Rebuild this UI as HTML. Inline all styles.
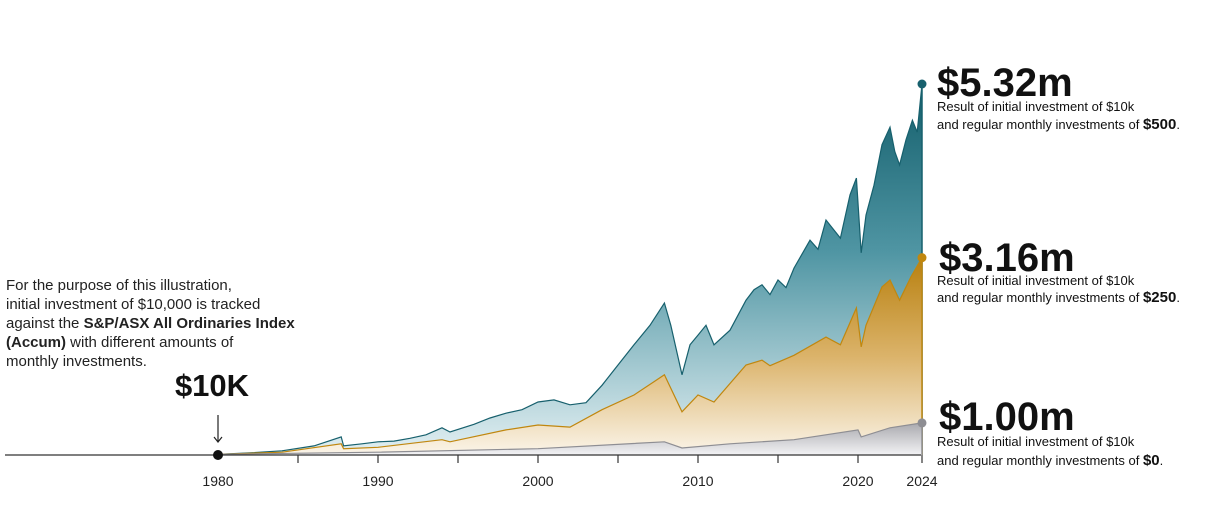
<!DOCTYPE html>
<html><head><meta charset="utf-8"><style>
body{margin:0;background:#fff;font-family:"Liberation Sans",sans-serif}
svg{display:block}
</style></head><body>
<svg width="1225" height="505">
<defs>
<linearGradient id="gT" x1="0" y1="0" x2="0" y2="1"><stop offset="0" stop-color="#135e6b"/><stop offset="0.45" stop-color="#4f95a3"/><stop offset="1" stop-color="#e3f0f3"/></linearGradient>
<linearGradient id="gG" x1="0" y1="0" x2="0" y2="1"><stop offset="0" stop-color="#b8800f"/><stop offset="0.5" stop-color="#dbb36a"/><stop offset="1" stop-color="#fbf5ea"/></linearGradient>
<linearGradient id="gY" x1="0" y1="0" x2="0" y2="1"><stop offset="0" stop-color="#a9a9ae"/><stop offset="1" stop-color="#f3f3f5"/></linearGradient>
</defs>
<g id="series"></g>
<g id="axis"></g>
<g font-size="15" fill="#222">
<text x="6" y="290">For the purpose of this illustration,</text>
<text x="6" y="309">initial investment of $10,000 is tracked</text>
<text x="6" y="328">against the <tspan font-weight="bold">S&amp;P/ASX All Ordinaries Index</tspan></text>
<text x="6" y="347"><tspan font-weight="bold">(Accum)</tspan> with different amounts of</text>
<text x="6" y="366">monthly investments.</text>
</g>
<text x="212" y="396" text-anchor="middle" font-size="31" font-weight="bold" fill="#111">$10K</text>
<line x1="218" y1="415" x2="218" y2="441" stroke="#222" stroke-width="1.2"/>
<path d="M214 437 L218 442 L222 437" fill="none" stroke="#222" stroke-width="1.2"/>
<g fill="#111">
<text x="937" y="96" font-size="40" font-weight="bold">$5.32m</text>
<text x="937" y="111" font-size="13">Result of initial investment of $10k</text>
<text x="937" y="129" font-size="13">and regular monthly investments of <tspan font-weight="bold" font-size="15">$500</tspan>.</text>
</g>
<g fill="#111">
<text x="939" y="271" font-size="40" font-weight="bold">$3.16m</text>
<text x="937" y="285" font-size="13">Result of initial investment of $10k</text>
<text x="937" y="302" font-size="13">and regular monthly investments of <tspan font-weight="bold" font-size="15">$250</tspan>.</text>
</g>
<g fill="#111">
<text x="939" y="430" font-size="40" font-weight="bold">$1.00m</text>
<text x="937" y="446" font-size="13">Result of initial investment of $10k</text>
<text x="937" y="465" font-size="13">and regular monthly investments of <tspan font-weight="bold" font-size="15">$0</tspan>.</text>
</g>
</svg>
<script>
const tealYears=[1980,1982,1984,1986,1987.7,1987.85,1989,1990,1991,1992,1993,1994,1994.5,1996,1997,1998,1999,2000,2001,2002,2003,2004,2005,2006,2007,2007.9,2008.3,2009,2009.5,2010,2010.5,2011,2012,2013,2013.5,2014,2014.5,2015,2015.5,2016,2017,2017.5,2018,2018.9,2019.5,2019.9,2020.2,2020.5,2021,2021.5,2022,2022.3,2022.6,2023,2023.4,2023.7,2024];
const tealValues=[0.01,0.03,0.06,0.13,0.26,0.13,0.16,0.19,0.20,0.24,0.29,0.39,0.33,0.44,0.53,0.60,0.65,0.76,0.79,0.72,0.75,1.00,1.29,1.58,1.86,2.18,1.86,1.15,1.58,1.72,1.86,1.58,1.79,2.22,2.37,2.44,2.30,2.51,2.40,2.68,3.08,2.95,3.37,3.11,3.73,3.97,2.90,3.44,3.87,4.45,4.70,4.35,4.16,4.52,4.80,4.63,5.32];
const goldYears=[1980,1984,1987.7,1987.85,1990,1994,1994.5,1998,2000,2002,2004,2006,2007.9,2009,2010,2011,2013,2014,2014.5,2016,2018,2018.9,2019.9,2020.2,2020.5,2021.5,2022,2022.6,2023.3,2024];
const goldValues=[0.01,0.04,0.16,0.09,0.11,0.22,0.19,0.36,0.43,0.40,0.65,0.86,1.15,0.62,0.86,0.76,1.29,1.36,1.28,1.43,1.69,1.58,2.11,1.55,1.86,2.41,2.51,2.22,2.55,2.83];
const grayYears=[1980,1990,2000,2007.9,2009,2012,2016,2020,2020.2,2022,2024];
const grayValues=[0.01,0.04,0.09,0.19,0.10,0.16,0.22,0.36,0.26,0.39,0.46];
const tickYears=[1980,1985,1990,1995,2000,2005,2010,2015,2020,2024];
const tickLabels=["1980","","1990","","2000","","2010","","2020","2024"];
const NS="http://www.w3.org/2000/svg";
const x=y=>218+(y-1980)*16;
const yv=v=>455-v*(371/5.32);
function mk(t,a,p){const e=document.createElementNS(NS,t);for(const k in a)e.setAttribute(k,a[k]);p.appendChild(e);return e;}
const sg=document.getElementById('series');
function series(ys,vs,fill,stroke,name){
 let d="M"+x(ys[0])+" "+yv(0);
 let l="";
 ys.forEach((yr,i)=>{d+=" L"+x(yr).toFixed(1)+" "+yv(vs[i]).toFixed(1);l+=(i?" L":"M")+x(yr).toFixed(1)+" "+yv(vs[i]).toFixed(1);});
 d+=" L"+x(ys[ys.length-1])+" "+yv(0)+" Z";
 const a=mk('path',{d:d,fill:fill},sg);
 
 
 const ln=mk('path',{d:l,fill:'none',stroke:stroke,'stroke-width':1.2},sg);
 
 
 const last=ys.length-1;
 const vl=mk('line',{x1:x(ys[last]),x2:x(ys[last]),y1:yv(vs[last]),y2:yv(0),stroke:stroke,'stroke-width':1.5},sg);
 
 
 const c=mk('circle',{cx:x(ys[last]),cy:yv(vs[last]),r:4.5,fill:stroke},sg);
 
 
}
series(tealYears,tealValues,'url(#gT)','#17606d','series-500');
series(goldYears,goldValues,'url(#gG)','#c0870f','series-250');
series(grayYears,grayValues,'url(#gY)','#8e8e93','series-0');
const ag=document.getElementById('axis');
const base=mk('line',{x1:5,x2:921,y1:455,y2:455,stroke:'#333','stroke-width':1.3},ag);


tickYears.forEach((t,i)=>{
 if(i>0){const tk=mk('line',{x1:x(t),x2:x(t),y1:455,y2:463,stroke:'#333','stroke-width':1.2},ag);
 
 }
 if(tickLabels[i]){const tx=mk('text',{x:x(t),y:486,'text-anchor':'middle','font-size':14,fill:'#222'},ag);
 tx.textContent=tickLabels[i];
 
 }
});
const sd=mk('circle',{cx:218,cy:455,r:5,fill:'#111'},ag);


</script>
</body></html>
